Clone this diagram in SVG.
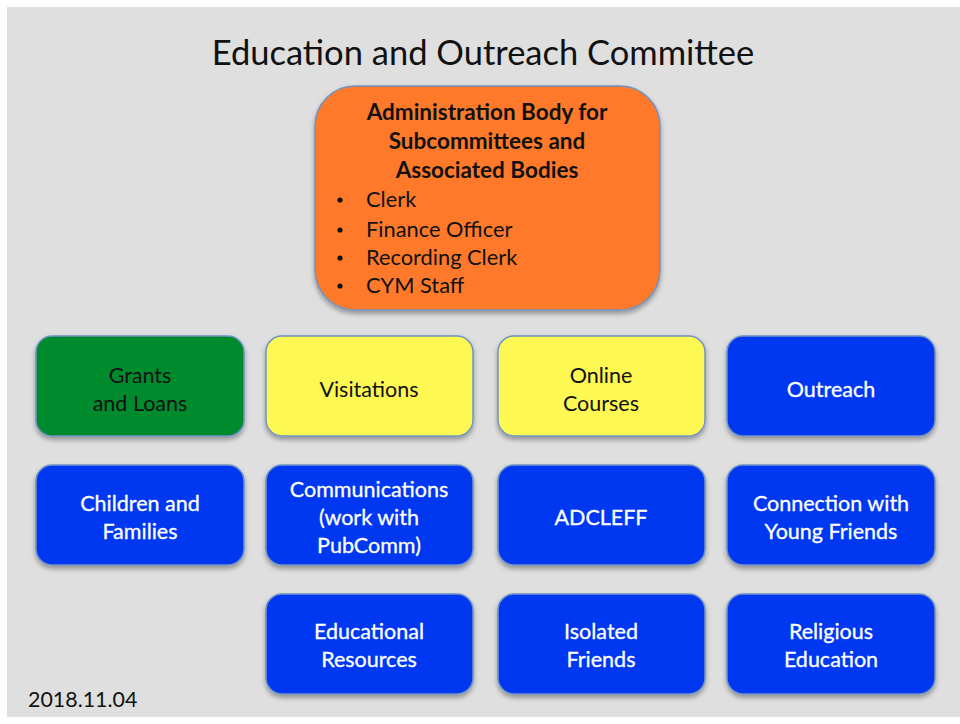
<svg xmlns="http://www.w3.org/2000/svg" width="960" height="724" viewBox="0 0 960 724">
<defs>
<filter id="sh" x="-10%" y="-10%" width="120%" height="130%">
<feDropShadow dx="0" dy="3" stdDeviation="2.5" flood-color="#000" flood-opacity="0.35"/>
</filter>
<style>
.box{stroke:#6f93c4;stroke-width:1.5;filter:url(#sh)}
.t{font-family:Lato,"Open Sans",sans-serif;font-size:21.5px;text-anchor:middle}
.dk{fill:#111}
.wt{fill:#fff;stroke:#fff;stroke-width:0.3}
.blue{fill:#0538f2}
</style>
</defs>
<rect x="0" y="0" width="960" height="724" fill="#fff"/>
<rect x="7" y="7" width="953" height="710" fill="#dfdfdf"/>
<text x="483" y="65" font-family="Lato,'Open Sans',sans-serif" font-size="34.5" text-anchor="middle" fill="#111">Education and Outreach Committee</text>
<g id="admin">
<rect class="box" x="315" y="86" width="345" height="224" rx="40" fill="#fe7a2b"/>
<g font-family="Lato,'Open Sans',sans-serif" font-size="22.5" font-weight="bold" fill="#111" text-anchor="middle">
<text x="487" y="120">Administration Body for</text>
<text x="487" y="149">Subcommittees and</text>
<text x="487" y="178">Associated Bodies</text>
</g>
<g fill="#111">
<circle cx="340" cy="200" r="2.6"/><circle cx="340" cy="230" r="2.6"/><circle cx="340" cy="258" r="2.6"/><circle cx="340" cy="286" r="2.6"/>
</g>
<g font-family="Lato,'Open Sans',sans-serif" font-size="21.8" fill="#111">
<text x="366" y="207">Clerk</text>
<text x="366" y="237">Finance Officer</text>
<text x="366" y="265">Recording Clerk</text>
<text x="366" y="293">CYM Staff</text>
</g>
</g>
<g id="grants">
<rect class="box" x="36" y="336" width="208" height="100" rx="16" fill="#008a2e"/>
<text class="t dk" x="140" y="383">Grants</text>
<text class="t dk" x="140" y="411">and Loans</text>
</g>
<g id="visitations">
<rect class="box" x="266" y="336" width="207" height="100" rx="16" fill="#fef852"/>
<text class="t dk" x="369" y="397">Visitations</text>
</g>
<g id="online">
<rect class="box" x="498" y="336" width="207" height="100" rx="16" fill="#fef852"/>
<text class="t dk" x="601" y="383">Online</text>
<text class="t dk" x="601" y="411">Courses</text>
</g>
<g id="outreach">
<rect class="box blue" x="727" y="336" width="208" height="100" rx="16"/>
<text class="t wt" x="831" y="397">Outreach</text>
</g>
<g id="children">
<rect class="box blue" x="36" y="465" width="208" height="100" rx="16"/>
<text class="t wt" x="140" y="511">Children and</text>
<text class="t wt" x="140" y="539">Families</text>
</g>
<g id="communications">
<rect class="box blue" x="266" y="465" width="207" height="100" rx="16"/>
<text class="t wt" x="369" y="497">Communications</text>
<text class="t wt" x="369" y="525">(work with</text>
<text class="t wt" x="369" y="553">PubComm)</text>
</g>
<g id="adcleff">
<rect class="box blue" x="498" y="465" width="207" height="100" rx="16"/>
<text class="t wt" x="601" y="525">ADCLEFF</text>
</g>
<g id="young-friends">
<rect class="box blue" x="727" y="465" width="208" height="100" rx="16"/>
<text class="t wt" x="831" y="511">Connection with</text>
<text class="t wt" x="831" y="539">Young Friends</text>
</g>
<g id="educational-resources">
<rect class="box blue" x="266" y="594" width="207" height="100" rx="16"/>
<text class="t wt" x="369" y="639">Educational</text>
<text class="t wt" x="369" y="667">Resources</text>
</g>
<g id="isolated">
<rect class="box blue" x="498" y="594" width="207" height="100" rx="16"/>
<text class="t wt" x="601" y="639">Isolated</text>
<text class="t wt" x="601" y="667">Friends</text>
</g>
<g id="religious">
<rect class="box blue" x="727" y="594" width="208" height="100" rx="16"/>
<text class="t wt" x="831" y="639">Religious</text>
<text class="t wt" x="831" y="667">Education</text>
</g>
<g id="connectors"></g>
<text x="28" y="707" font-family="Lato,'Open Sans',sans-serif" font-size="21.4" fill="#111">2018.11.04</text>
</svg>
